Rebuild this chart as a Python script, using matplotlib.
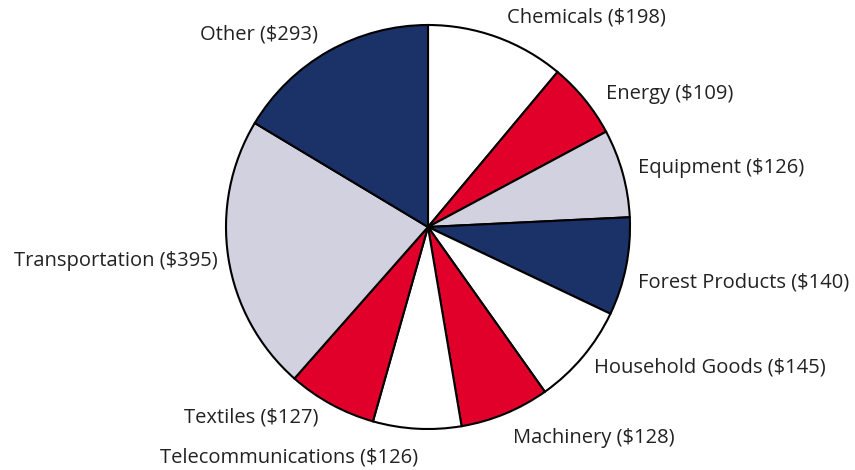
import matplotlib
matplotlib.use("Agg")
import matplotlib.pyplot as plt
import numpy as np

# data (billions of dollars)
categories = ["Chemicals", "Energy", "Equipment", "Forest Products",
              "Household Goods", "Machinery", "Telecommunications",
              "Textiles", "Transportation", "Other"]
values = [198, 109, 126, 140, 145, 128, 126, 127, 395, 293]

navy = "#1b3268"
red = "#e0002a"
lav = "#d1d1e0"
white = "#ffffff"
colors = [white, red, lav, navy, white, red, white, red, lav, navy]

# label nudges in pixels (dx, dy down)
nudges = [(6, -8), (12, 2), (4, -2), (0, 13), (2, 3),
          (3, 13), (2, 17), (-7, 3), (1, 1), (-5, -6)]

plt.rcParams['font.family'] = ['Open Sans', 'DejaVu Sans']

W, H = 855, 470
cx, cy, R = 428, 227, 202
fig = plt.figure(figsize=(W / 100, H / 100), dpi=100)
ax = fig.add_axes([0, 0, 1, 1])

labels = [f"{c} (${v})" for c, v in zip(categories, values)]
wedges, texts = ax.pie(values, colors=colors, startangle=90, counterclock=False,
                       labels=labels, labeldistance=1.06,
                       wedgeprops=dict(edgecolor="black", linewidth=1.5),
                       textprops=dict(fontsize=14.5, color="#222222"))
for t, (dx, dy) in zip(texts, nudges):
    x, y = t.get_position()
    t.set_position((x + dx / R, y - dy / R))
    t.set_va("center")

ax.set_xlim(-cx / R, (W - cx) / R)
ax.set_ylim(-(H - cy) / R, cy / R)
ax.set_aspect("auto")
ax.axis("off")

fig.savefig("out.png", dpi=100)
